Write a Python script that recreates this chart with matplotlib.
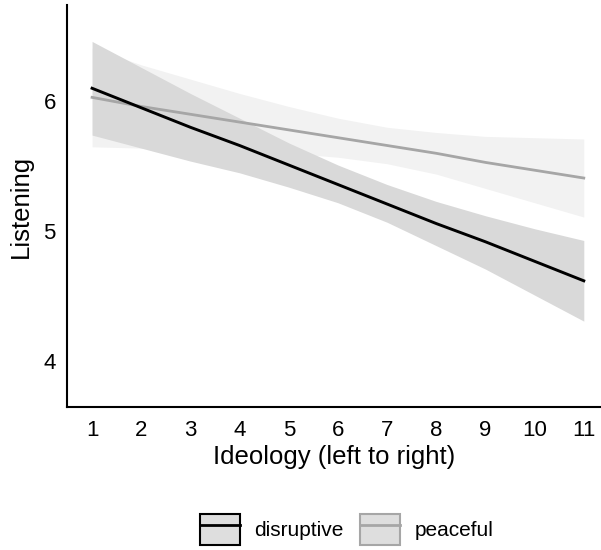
import numpy as np
import matplotlib
matplotlib.use("Agg")
import matplotlib.pyplot as plt
from matplotlib.patches import Patch
from matplotlib.lines import Line2D

plt.rcParams['font.family'] = ['Liberation Sans', 'DejaVu Sans']

ideology = [1, 2, 3, 4, 5, 6, 7, 8, 9, 10, 11]

# fitted values and confidence band
disruptive_fit = [6.10, 5.95, 5.80, 5.66, 5.51, 5.36, 5.21, 5.06, 4.92, 4.77, 4.62]
disruptive_hi = [6.46, 6.26, 6.06, 5.87, 5.68, 5.51, 5.36, 5.23, 5.12, 5.02, 4.93]
disruptive_lo = [5.74, 5.64, 5.54, 5.45, 5.34, 5.22, 5.07, 4.89, 4.71, 4.51, 4.31]

peaceful_fit = [6.03, 5.96, 5.90, 5.84, 5.78, 5.72, 5.66, 5.60, 5.53, 5.47, 5.41]
peaceful_hi = [6.41, 6.28, 6.17, 6.06, 5.96, 5.87, 5.80, 5.76, 5.73, 5.72, 5.71]
peaceful_lo = [5.65, 5.64, 5.63, 5.62, 5.60, 5.57, 5.52, 5.44, 5.33, 5.22, 5.11]

groups = ["disruptive", "peaceful"]
line_colors = {"disruptive": "black", "peaceful": "#A6A6A6"}
band_colors = {"disruptive": "#D9D9D9", "peaceful": "#F2F2F2"}

fig = plt.figure(figsize=(6.01, 5.5), dpi=100)
ax = fig.add_axes([67/601, 1-407/550, 1-67/601, (407-5)/550])

ax.fill_between(ideology, peaceful_lo, peaceful_hi, color=band_colors["peaceful"], lw=0, zorder=1)
ax.fill_between(ideology, disruptive_lo, disruptive_hi, color=band_colors["disruptive"], lw=0, zorder=2)
ax.plot(ideology, peaceful_fit, color=line_colors["peaceful"], lw=2.0, zorder=3)
ax.plot(ideology, disruptive_fit, color=line_colors["disruptive"], lw=2.1, zorder=4)

ax.set_xlim(0.49, 11.35)
ax.set_ylim(3.65, 6.74)
ax.set_xticks(ideology)
ax.set_yticks([4, 5, 6])
ax.tick_params(length=0, labelsize=16, colors="black")
ax.tick_params(axis="x", pad=9)
ax.tick_params(axis="y", pad=8)

for s in ["top", "right"]:
    ax.spines[s].set_visible(False)
for s in ["left", "bottom"]:
    ax.spines[s].set_linewidth(1.5)

ax.set_xlabel("Ideology (left to right)", fontsize=18.5, labelpad=3)
ax.set_ylabel("Listening", fontsize=18.5, labelpad=8)

handles = []
for g in groups:
    p = Patch(facecolor="#DEDEDE", edgecolor=line_colors[g], lw=1.5)
    l = Line2D([], [], color=line_colors[g], lw=2.0)
    handles.append((p, l))

fig.legend(handles, groups, loc="center", bbox_to_anchor=(0.577, 0.038), ncol=2,
           frameon=False, fontsize=15, handlelength=1.9, handleheight=1.9,
           handletextpad=0.7, columnspacing=0.8)

fig.savefig("out.png", dpi=100)
